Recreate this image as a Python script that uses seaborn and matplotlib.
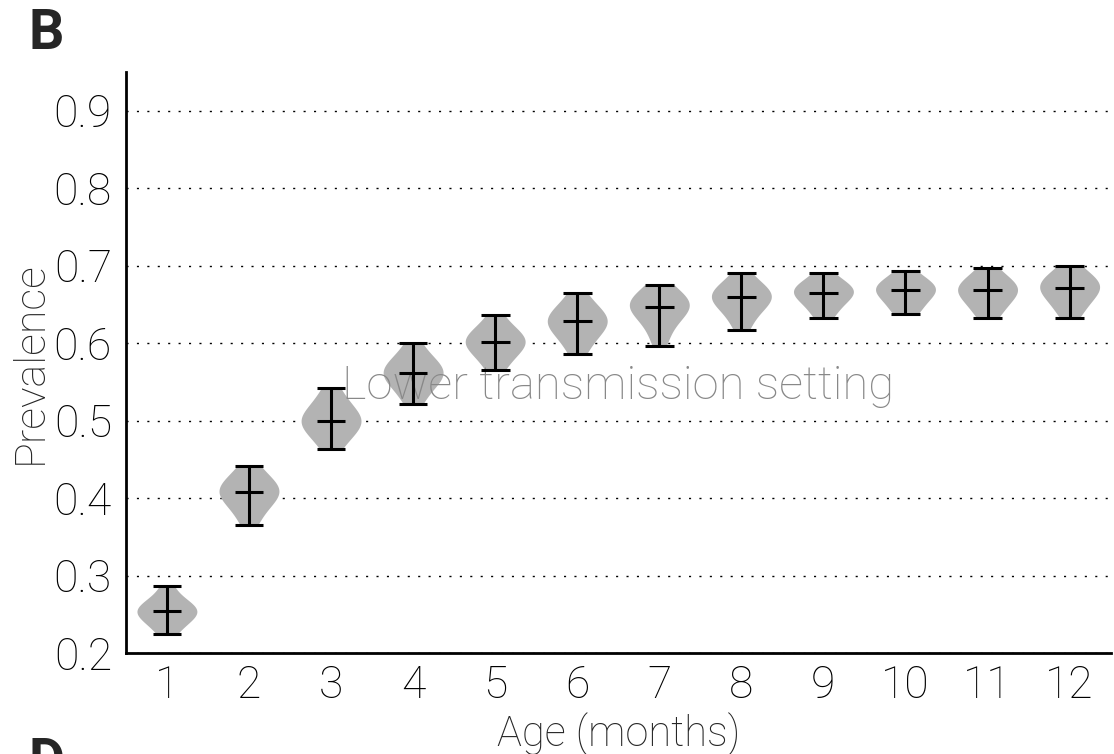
import numpy as np
import pandas as pd
import matplotlib
matplotlib.use("Agg")
import matplotlib.pyplot as plt
import seaborn as sns

# ---- data ----
months = ["1", "2", "3", "4", "5", "6", "7", "8", "9", "10", "11", "12"]

m1 = [0.225, 0.235, 0.243, 0.249, 0.252, 0.254, 0.256, 0.258, 0.262, 0.269, 0.287]
m2 = [0.365, 0.378, 0.388, 0.396, 0.402, 0.406, 0.408, 0.410, 0.413, 0.417, 0.423, 0.431, 0.442]
m3 = [0.463, 0.474, 0.483, 0.490, 0.495, 0.498, 0.500, 0.502, 0.506, 0.512, 0.520, 0.530, 0.542]
m4 = [0.521, 0.532, 0.543, 0.551, 0.556, 0.559, 0.561, 0.564, 0.567, 0.571, 0.577, 0.586, 0.600]
m5 = [0.565, 0.575, 0.584, 0.591, 0.596, 0.599, 0.601, 0.604, 0.607, 0.610, 0.615, 0.623, 0.636]
m6 = [0.586, 0.598, 0.608, 0.616, 0.622, 0.626, 0.628, 0.630, 0.633, 0.637, 0.643, 0.652, 0.665]
m7 = [0.596, 0.612, 0.624, 0.634, 0.641, 0.645, 0.647, 0.650, 0.652, 0.655, 0.659, 0.665, 0.675]
m8 = [0.617, 0.630, 0.640, 0.648, 0.653, 0.657, 0.659, 0.662, 0.664, 0.667, 0.671, 0.678, 0.690]
m9 = [0.632, 0.640, 0.648, 0.655, 0.660, 0.663, 0.665, 0.668, 0.670, 0.672, 0.675, 0.680, 0.691]
m10 = [0.637, 0.641, 0.648, 0.656, 0.662, 0.666, 0.668, 0.670, 0.672, 0.675, 0.678, 0.683, 0.693]
m11 = [0.633, 0.640, 0.648, 0.656, 0.661, 0.665, 0.668, 0.670, 0.673, 0.676, 0.680, 0.686, 0.697]
m12 = [0.633, 0.642, 0.651, 0.658, 0.663, 0.668, 0.671, 0.674, 0.677, 0.680, 0.683, 0.689, 0.699]
samples = [m1, m2, m3, m4, m5, m6, m7, m8, m9, m10, m11, m12]

yticks = [0.2, 0.3, 0.4, 0.5, 0.6, 0.7, 0.8, 0.9]
ytick_labels = ["0.2", "0.3", "0.4", "0.5", "0.6", "0.7", "0.8", "0.9"]

# ---- long-form table ----
rows = []
for m, vals in zip(months, samples):
    for v in vals:
        rows.append({"Age": m, "Prevalence": v})
df = pd.DataFrame(rows)

sns.set_theme(style="white")
FONT = ["Roboto", "DejaVu Sans"]
plt.rcParams["font.family"] = FONT
plt.rcParams["font.weight"] = "light"

fig = plt.figure(figsize=(11.14, 7.54), dpi=100)
ax = fig.add_axes([0.113, 0.134, 0.884, 0.7705])

sns.violinplot(data=df, x="Age", y="Prevalence", order=months, ax=ax,
               inner=None, cut=0, density_norm="width", width=0.73,
               bw_adjust=1.3, color="#b3b3b3", saturation=1, linewidth=0,
               zorder=2)

# min / median / max bars
pos = np.arange(len(months))
mins = [np.min(s) for s in samples]
maxs = [np.max(s) for s in samples]
meds = [np.median(s) for s in samples]
hw = 0.175
ax.vlines(pos, mins, maxs, color="black", lw=2.2, zorder=3)
ax.hlines(mins, pos - hw, pos + hw, color="black", lw=2.2, zorder=3)
ax.hlines(maxs, pos - hw, pos + hw, color="black", lw=2.2, zorder=3)
ax.hlines(meds, pos - hw, pos + hw, color="black", lw=2.2, zorder=3)

ax.set_xlim(-0.5, 11.5)
ax.set_ylim(0.2, 0.95)
ax.set_yticks(yticks)
ax.set_yticklabels(ytick_labels)

ax.yaxis.grid(True, color="black", linestyle=(0, (1.5, 6)), linewidth=1.0)
ax.xaxis.grid(False)
ax.set_axisbelow(True)

for s in ["top", "right"]:
    ax.spines[s].set_visible(False)
for s in ["left", "bottom"]:
    ax.spines[s].set_color("black")
    ax.spines[s].set_linewidth(2.0)

ax.tick_params(axis="both", direction="in", length=8, width=1.0,
               color="black", labelsize=32, labelcolor="black", pad=8)
ax.tick_params(axis="y", pad=10)
for lab in ax.get_xticklabels() + ax.get_yticklabels():
    lab.set_fontweight("light")

ax.set_xlabel("Age (months)", fontsize=30, fontweight="light", labelpad=4)
ax.set_ylabel("Prevalence", fontsize=31, fontweight="light", labelpad=2)

ax.text(5.5, 0.545, "Lower transmission setting", fontsize=34,
        color="#888888", ha="center", va="center", fontweight="light",
        zorder=2.5)

fig.text(0.026, 0.99, "B", fontsize=40, fontweight="bold", ha="left", va="top")
fig.text(0.026, 0.022, "D", fontsize=40, fontweight="bold", ha="left", va="top")

fig.savefig("out.png", dpi=100)
